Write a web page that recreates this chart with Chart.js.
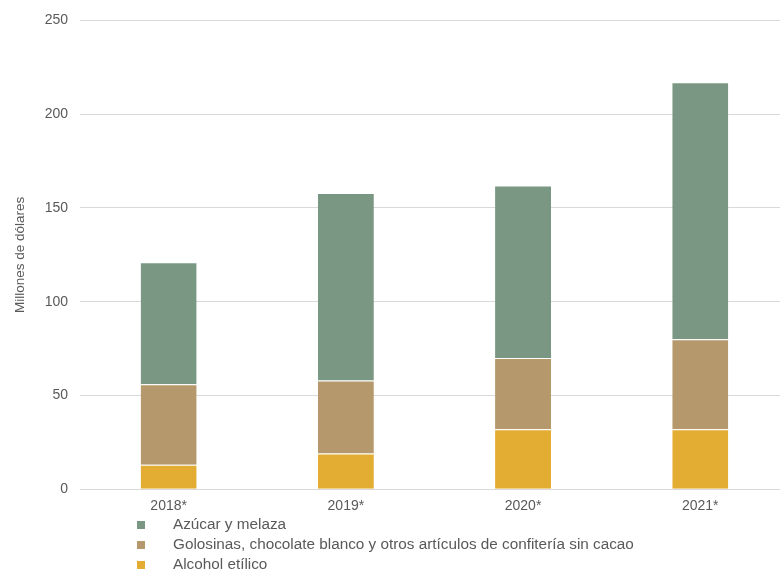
<!DOCTYPE html>
<html>
<head>
<meta charset="utf-8">
<script src="https://cdn.jsdelivr.net/npm/chart.js@4"></script>
<style>
html,body{margin:0;padding:0;background:#fff;}
#wrap{width:780px;height:572px;position:relative;}
</style>
</head>
<body>
<div id="wrap"><canvas id="c" width="780" height="572"></canvas></div>
<script>
const categories = ["2018*", "2019*", "2020*", "2021*"];
const seriesNames = ["Azúcar y melaza", "Golosinas, chocolate blanco y otros artículos de confitería sin cacao", "Alcohol etílico"];
const azucar = [65, 100, 92, 137];
const golosinas = [43, 39, 38, 48];
const alcohol = [13, 19, 32, 32];
const yTicks = [0, 50, 100, 150, 200, 250];
const colors = ["#7A9783", "#B6986D", "#E3AD33"];

const FONT = "'Liberation Sans', Arial, sans-serif";
const TXT = "#595959";

function pts(arr){ return arr.map((v,i)=>({x:i, y:v})); }

const datasets = [
  {label: seriesNames[2], data: pts(alcohol), backgroundColor: colors[2]},
  {label: seriesNames[1], data: pts(golosinas), backgroundColor: colors[1]},
  {label: seriesNames[0], data: pts(azucar), backgroundColor: colors[0]}
].map(d => Object.assign(d, {
  borderColor: "rgba(255,255,255,0.3)", borderWidth: {top: 1, left: 0, right: 0, bottom: 0},
  barPercentage: 0.316, categoryPercentage: 1.0, borderSkipped: false
}));

const legendPlugin = {
  id: 'vlegend',
  afterDraw(chart){
    const ctx = chart.ctx;
    ctx.save();
    ctx.font = "15.3px " + FONT;
    ctx.textBaseline = "middle";
    ctx.textAlign = "left";
    const ys = [525, 545, 565];
    for (let i = 0; i < 3; i++){
      ctx.fillStyle = colors[i];
      ctx.fillRect(137, ys[i]-4, 8, 8);
      ctx.fillStyle = TXT;
      ctx.fillText(seriesNames[i], 173, ys[i]);
    }
    ctx.restore();
  }
};

new Chart(document.getElementById('c'), {
  type: 'bar',
  data: { datasets },
  plugins: [legendPlugin],
  options: {
    responsive: false,
    animation: false,
    layout: { padding: { top: 13, bottom: 56, left: 12, right: 0 } },
    plugins: { legend: { display: false }, tooltip: { enabled: false } },
    scales: {
      x: {
        type: 'linear', stacked: true, min: -0.5, max: 3.45, offset: false,
        grid: { display: false }, border: { display: false },
        afterBuildTicks: (s) => { s.ticks = categories.map((c,i)=>({value:i})); },
        ticks: { callback: (v) => categories[v], color: TXT, font: { size: 14, family: FONT }, padding: 1, maxRotation: 0, autoSkip: false }
      },
      y: {
        stacked: true, min: 0, max: 250,
        afterBuildTicks: (s) => { s.ticks = yTicks.map(v=>({value:v})); },
        grid: { color: "#d9d9d9", drawTicks: false, lineWidth: 1 },
        border: { display: false },
        ticks: { color: TXT, font: { size: 14, family: FONT }, padding: 12 },
        title: { display: true, text: "Millones de dólares", color: TXT, font: { size: 13.5, family: FONT }, padding: { top: 0, bottom: 4.5 } }
      }
    }
  }
});
</script>
</body>
</html>
